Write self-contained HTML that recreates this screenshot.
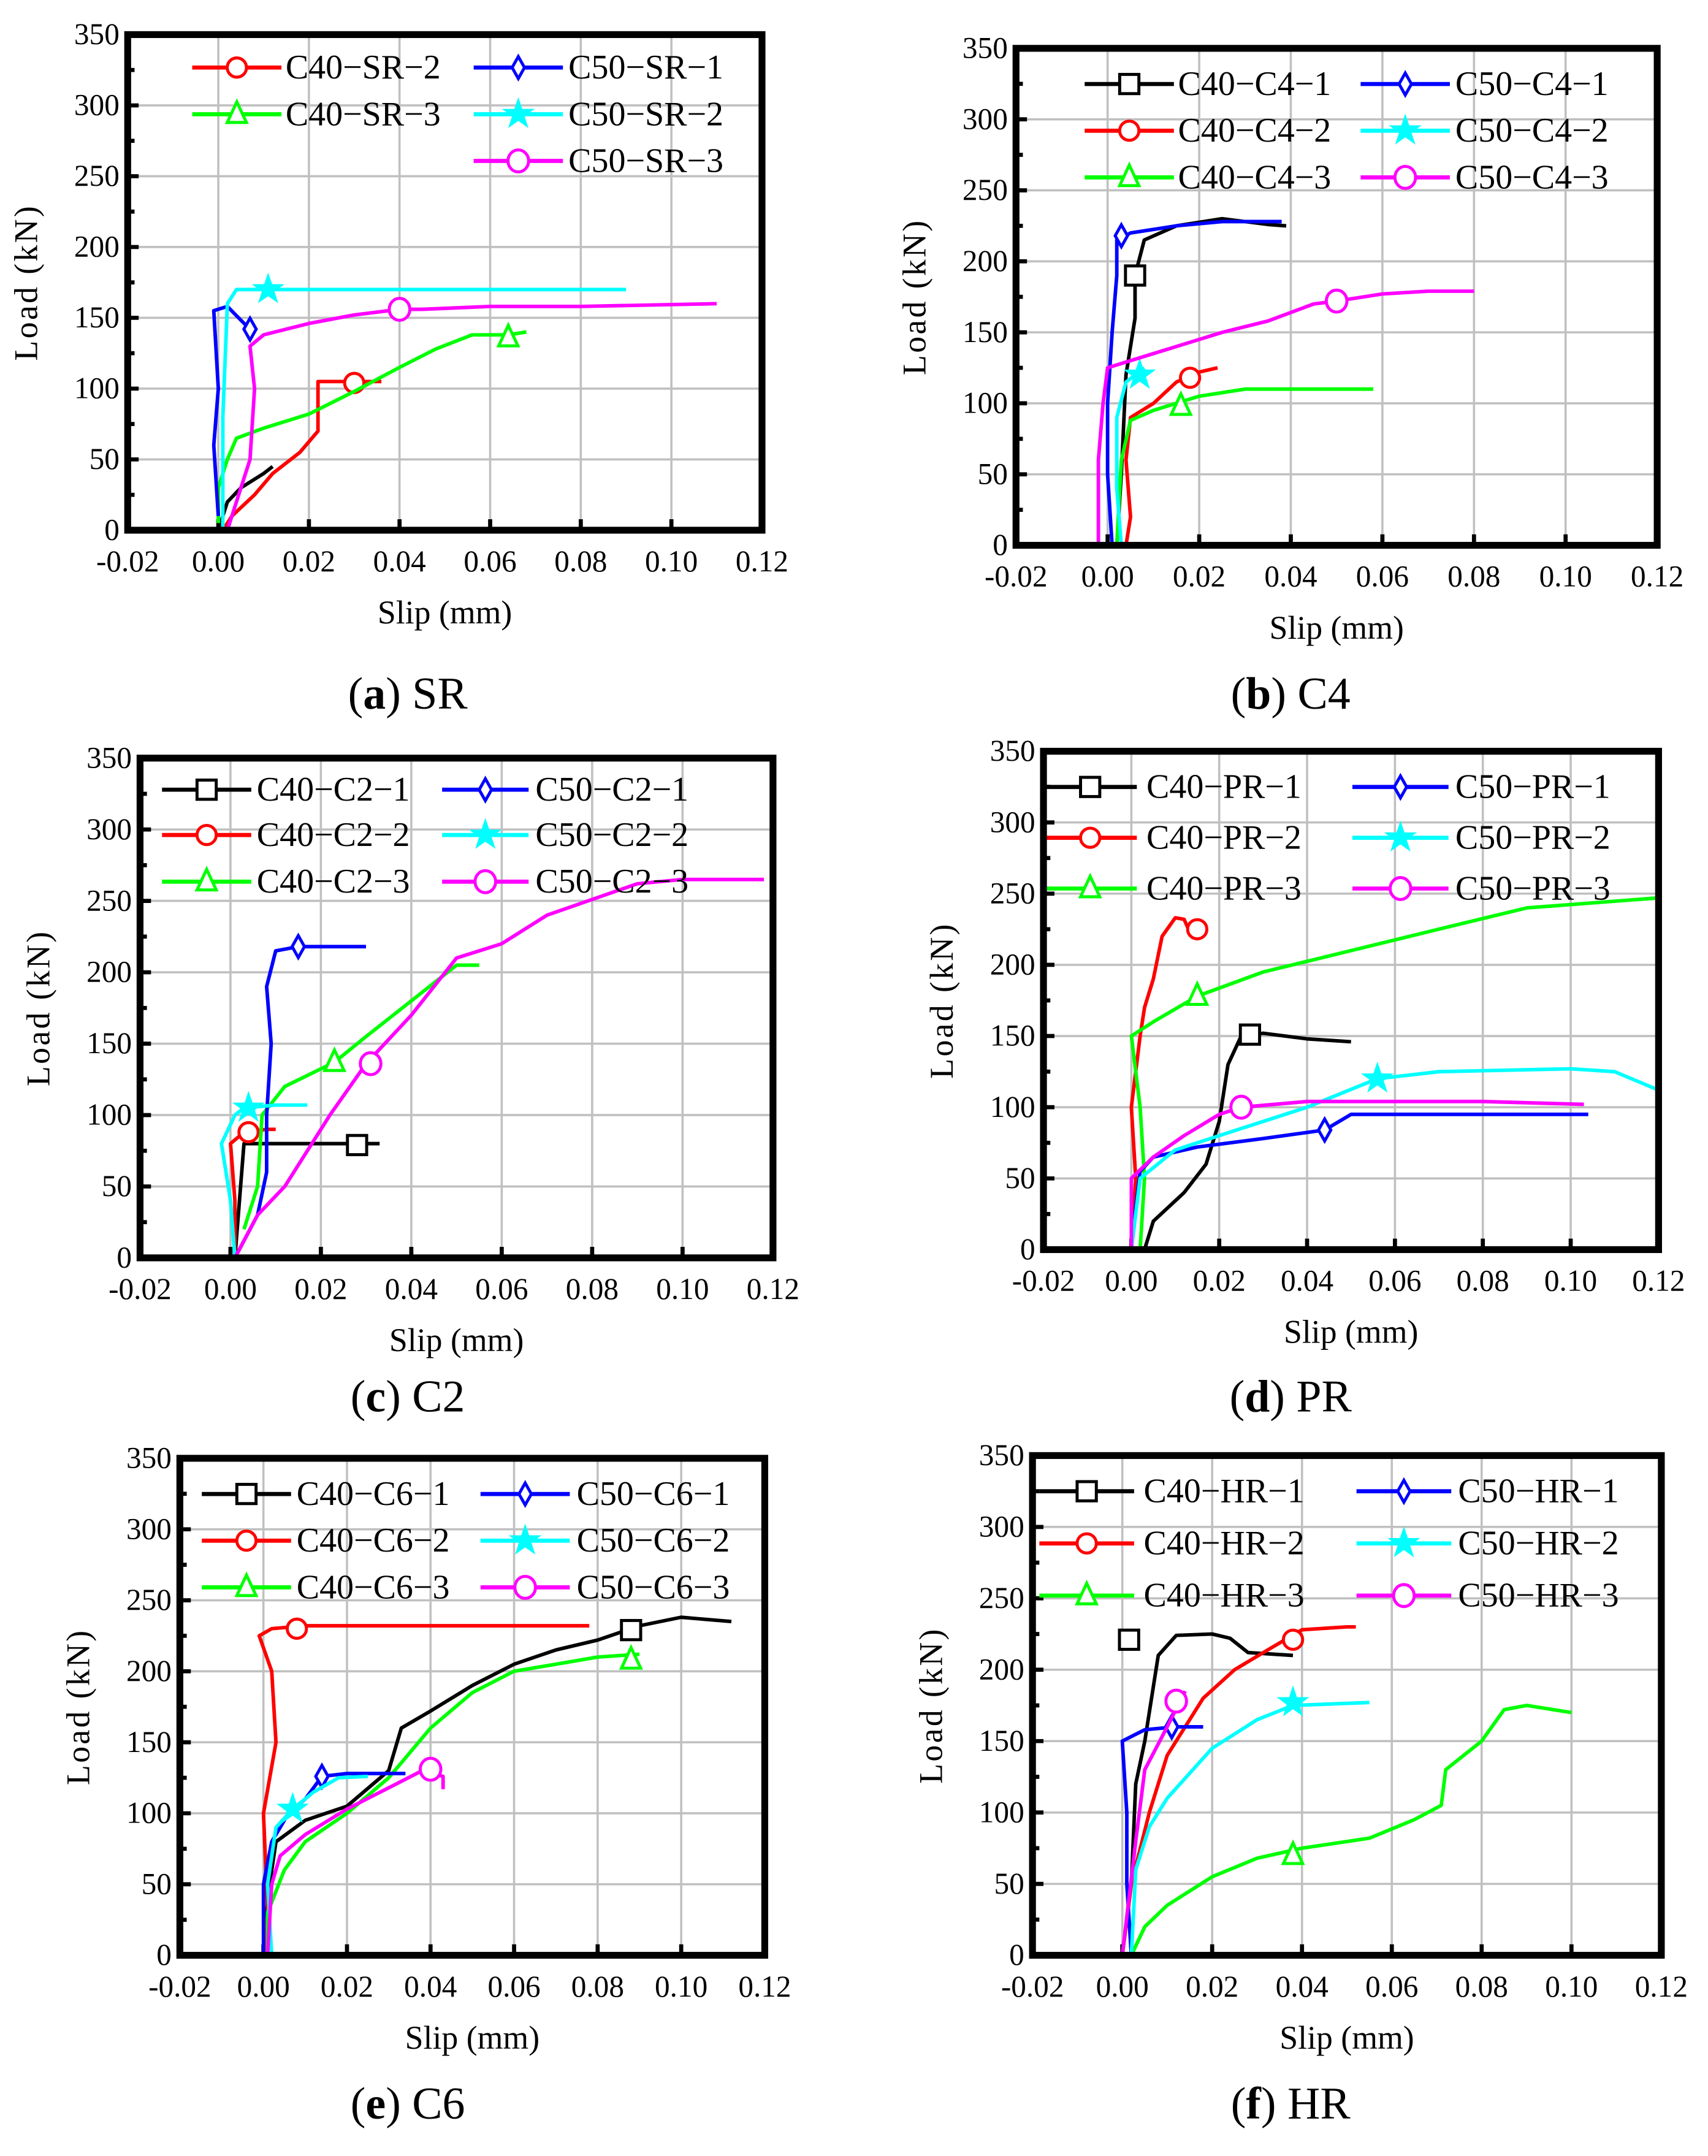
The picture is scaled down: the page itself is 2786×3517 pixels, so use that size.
<!DOCTYPE html>
<html><head><meta charset="utf-8"><style>html,body{margin:0;padding:0;background:#fff}svg{display:block}svg text,svg tspan{font-family:"Liberation Serif","Times New Roman",serif}</style></head>
<body>
<svg id="fig" width="2786" height="3517" viewBox="0 0 1244 1570" xmlns="http://www.w3.org/2000/svg"></svg>
<script>
// x ticks / y ticks
const xTicks = [-0.02,0.00,0.02,0.04,0.06,0.08,0.10,0.12];
const xTickLabels = ["-0.02","0.00","0.02","0.04","0.06","0.08","0.10","0.12"];
const yTicks = [0,50,100,150,200,250,300,350];
// Panel a (SR)
const aC40SR1 = [[0,0],[0.002,20],[0.005,30],[0.01,40],[0.012,45]];
const aC40SR2 = [[0.001,0],[0.003,10],[0.008,25],[0.012,40],[0.018,55],[0.022,70],[0.022,105],[0.03,105],[0.036,105]];
const aC40SR3 = [[0,5],[0,30],[0.002,50],[0.004,65],[0.01,72],[0.02,82],[0.03,98],[0.04,115],[0.048,128],[0.056,138],[0.064,138],[0.068,140]];
const aC50SR1 = [[0,10],[-0.001,60],[0,100],[-0.001,155],[0.002,158],[0.006,145],[0.008,140]];
const aC50SR2 = [[0.001,0],[0.001,80],[0.002,160],[0.004,170],[0.01,170],[0.09,170]];
const aC50SR3 = [[0.002,0],[0.007,50],[0.008,100],[0.007,130],[0.01,138],[0.02,146],[0.03,152],[0.04,156],[0.045,156],[0.06,158],[0.08,158],[0.11,160]];
// Panel b (C4)
const bC40C41 = [[0.002,0],[0.003,50],[0.004,120],[0.006,160],[0.006,190],[0.008,215],[0.015,225],[0.025,230],[0.03,228],[0.035,226],[0.039,225]];
const bC40C42 = [[0.004,0],[0.005,20],[0.004,60],[0.005,90],[0.01,100],[0.015,115],[0.02,122],[0.024,125]];
const bC40C43 = [[0.002,0],[0.003,60],[0.005,88],[0.01,95],[0.02,105],[0.03,110],[0.04,110],[0.05,110],[0.058,110]];
const bC50C41 = [[0.001,0],[0,50],[0,100],[0.001,150],[0.002,190],[0.002,215],[0.005,220],[0.015,225],[0.025,228],[0.038,228]];
const bC50C42 = [[0.003,0],[0.002,40],[0.002,90],[0.004,115],[0.006,120],[0.008,125]];
const bC50C43 = [[-0.002,0],[-0.002,60],[-0.001,100],[0,125],[0.005,130],[0.015,140],[0.025,150],[0.035,158],[0.045,170],[0.05,172],[0.06,177],[0.07,179],[0.08,179]];
// Panel c (C2)
const cC40C21 = [[0.001,0],[0.002,40],[0.003,80],[0.01,80],[0.02,80],[0.028,80],[0.033,80]];
const cC40C22 = [[0.001,0],[0.001,40],[0,80],[0.003,88],[0.008,90],[0.01,90]];
const cC40C23 = [[0.003,20],[0.006,50],[0.007,100],[0.012,120],[0.023,137],[0.03,155],[0.04,180],[0.05,205],[0.055,205]];
const cC50C21 = [[0.001,0],[0.006,30],[0.008,60],[0.008,100],[0.009,150],[0.008,190],[0.01,215],[0.015,218],[0.03,218]];
const cC50C22 = [[0.001,0],[0,40],[-0.002,80],[0.001,100],[0.003,105],[0.01,107],[0.017,107]];
const cC50C23 = [[0.001,0],[0.006,30],[0.012,50],[0.022,100],[0.03,136],[0.04,170],[0.05,210],[0.06,220],[0.07,240],[0.09,262],[0.1,265],[0.118,265]];
// Panel d (PR)
const dC40PR1 = [[0.003,0],[0.005,20],[0.012,40],[0.017,60],[0.02,90],[0.022,130],[0.025,150],[0.03,152],[0.04,148],[0.05,146]];
const dC40PR2 = [[0,0],[0.001,50],[0,100],[0.002,150],[0.003,170],[0.005,190],[0.007,220],[0.01,233],[0.012,232],[0.013,225],[0.017,225]];
const dC40PR3 = [[0.002,0],[0.003,50],[0.002,100],[0,150],[0.005,160],[0.015,178],[0.03,195],[0.05,210],[0.07,225],[0.09,240],[0.12,247]];
const dC50PR1 = [[0,0],[0.001,30],[0.002,55],[0.005,65],[0.015,72],[0.03,78],[0.044,84],[0.05,95],[0.104,95]];
const dC50PR2 = [[0,0],[0.002,50],[0.01,70],[0.025,85],[0.04,100],[0.056,120],[0.07,125],[0.1,127],[0.11,125],[0.12,112]];
const dC50PR3 = [[0,0],[0,50],[0.005,65],[0.012,80],[0.02,95],[0.025,100],[0.04,104],[0.06,104],[0.08,104],[0.103,102]];
// Panel e (C6)
const eC40C61 = [[0,0],[0.001,40],[0.003,80],[0.01,95],[0.02,105],[0.03,130],[0.033,160],[0.04,172],[0.05,190],[0.06,205],[0.07,215],[0.08,222],[0.09,232],[0.1,238],[0.112,235]];
const eC40C62 = [[0,0],[0.001,30],[0,100],[0.003,150],[0.002,200],[-0.001,225],[0.002,230],[0.01,232],[0.04,232],[0.078,232]];
const eC40C63 = [[0.001,0],[0.001,30],[0.005,60],[0.01,80],[0.02,100],[0.03,125],[0.04,160],[0.05,185],[0.06,200],[0.07,205],[0.08,210],[0.09,212]];
const eC50C61 = [[0,0],[0,50],[0.002,80],[0.006,100],[0.01,110],[0.014,126],[0.02,128],[0.034,128]];
const eC50C62 = [[0.002,0],[0.001,50],[0.003,90],[0.007,103],[0.012,115],[0.018,125],[0.025,126]];
const eC50C63 = [[0.001,0],[0.002,50],[0.004,70],[0.01,85],[0.02,103],[0.03,118],[0.038,130],[0.043,126],[0.043,117]];
// Panel f (HR)
const fC40HR1 = [[0,0],[0.002,50],[0.003,120],[0.005,150],[0.008,210],[0.012,224],[0.02,225],[0.024,222],[0.028,212],[0.038,210]];
const fC40HR2 = [[0,0],[0.002,50],[0.006,100],[0.01,140],[0.018,180],[0.025,200],[0.033,215],[0.04,228],[0.05,230],[0.052,230]];
const fC40HR3 = [[0.002,0],[0.005,20],[0.01,35],[0.02,55],[0.03,68],[0.04,75],[0.055,82],[0.065,95],[0.071,105],[0.072,130],[0.08,150],[0.085,172],[0.09,175],[0.1,170]];
const fC50HR1 = [[0.002,0],[0.001,50],[0.001,100],[0,150],[0.005,158],[0.012,160],[0.018,160]];
const fC50HR2 = [[0.002,0],[0.003,60],[0.006,90],[0.01,110],[0.02,145],[0.03,165],[0.038,175],[0.055,177]];
const fC50HR3 = [[0,0],[0.003,80],[0.005,130],[0.01,160],[0.014,185]];
// marker points [slip, load]
const aMarks = {C40SR2:[0.03,104],C40SR3:[0.064,136],C50SR1:[0.007,142],C50SR2:[0.011,170],C50SR3:[0.04,156]};

const NS="http://www.w3.org/2000/svg";
const svg=document.getElementById('fig');
function mk(tag,attrs,parent){const e=document.createElementNS(NS,tag);for(const k in attrs)e.setAttribute(k,attrs[k]);(parent||svg).appendChild(e);return e;}

const COL={black:'#000',red:'#ff0000',green:'#00ff00',blue:'#0000ff',cyan:'#00ffff',mag:'#ff00ff'};
const MK={black:'square',red:'circle',green:'triangle',blue:'diamond',cyan:'star',mag:'hex'};

function marker(g,type,color,x,y){
  let e;
  if(type==='square') e=mk('rect',{x:x-7,y:y-7,width:14,height:14},g);
  else if(type==='circle') e=mk('circle',{cx:x,cy:y,r:7},g);
  else if(type==='hex') e=mk('ellipse',{cx:x,cy:y,rx:7.5,ry:8},g);
  else if(type==='triangle') e=mk('polygon',{points:`${x},${y-9} ${x-7},${y+6} ${x+7},${y+6}`},g);
  else if(type==='diamond') e=mk('polygon',{points:`${x},${y-8} ${x-4.5},${y} ${x},${y+8} ${x+4.5},${y}`},g);
  else { let p=[];for(let i=0;i<10;i++){const r=i%2?3.5:9;const a=-Math.PI/2+i*Math.PI/5;p.push((x+r*Math.cos(a)).toFixed(1)+','+(y+r*Math.sin(a)).toFixed(1));}
    e=mk('polygon',{points:p.join(' ')},g);}
  e.setAttribute('fill', type==='star'?color:'#fff');
  e.setAttribute('stroke',color);e.setAttribute('stroke-width',2.2);
  
  
}

const panels=[
 {id:'a',title:'SR',box:[93,25,555,386],cap:[297,505],legRows:[49,83,117],legCols:[[140,205,208],[345,410,414]],
  series:[
   {name:'C40-SR-1',c:'black',d:aC40SR1,leg:null,m:null},
   {name:'C40-SR-2',c:'red',d:aC40SR2,leg:[0,0],m:aMarks.C40SR2},
   {name:'C40-SR-3',c:'green',d:aC40SR3,leg:[1,0],m:aMarks.C40SR3},
   {name:'C50-SR-1',c:'blue',d:aC50SR1,leg:[0,1],m:aMarks.C50SR1},
   {name:'C50-SR-2',c:'cyan',d:aC50SR2,leg:[1,1],m:aMarks.C50SR2},
   {name:'C50-SR-3',c:'mag',d:aC50SR3,leg:[2,1],m:aMarks.C50SR3}]},
 {id:'b',title:'C4',box:[740,35,1207,397],cap:[940,505],legRows:[61,95,129],legCols:[[790,855,858],[991,1056,1060]],
  series:[
   {name:'C40-C4-1',c:'black',d:bC40C41,leg:[0,0],m:[0.006,190]},
   {name:'C40-C4-2',c:'red',d:bC40C42,leg:[1,0],m:[0.018,118]},
   {name:'C40-C4-3',c:'green',d:bC40C43,leg:[2,0],m:[0.016,98]},
   {name:'C50-C4-1',c:'blue',d:bC50C41,leg:[0,1],m:[0.003,218]},
   {name:'C50-C4-2',c:'cyan',d:bC50C42,leg:[1,1],m:[0.007,120]},
   {name:'C50-C4-3',c:'mag',d:bC50C43,leg:[2,1],m:[0.05,172]}]},
 {id:'c',title:'C2',box:[102,552,563,916],cap:[297,1017],legRows:[575,608,642],legCols:[[118,183,187],[322,385,390]],
  series:[
   {name:'C40-C2-1',c:'black',d:cC40C21,leg:[0,0],m:[0.028,79]},
   {name:'C40-C2-2',c:'red',d:cC40C22,leg:[1,0],m:[0.004,88]},
   {name:'C40-C2-3',c:'green',d:cC40C23,leg:[2,0],m:[0.023,137]},
   {name:'C50-C2-1',c:'blue',d:cC50C21,leg:[0,1],m:[0.015,218]},
   {name:'C50-C2-2',c:'cyan',d:cC50C22,leg:[1,1],m:[0.004,105]},
   {name:'C50-C2-3',c:'mag',d:cC50C23,leg:[2,1],m:[0.031,136]}]},
 {id:'d',title:'PR',box:[760,547,1208,910],cap:[940,1017],legRows:[573,610,647],legCols:[[760,828,835],[985,1055,1060]],
  series:[
   {name:'C40-PR-1',c:'black',d:dC40PR1,leg:[0,0],m:[0.027,151]},
   {name:'C40-PR-2',c:'red',d:dC40PR2,leg:[1,0],m:[0.015,225]},
   {name:'C40-PR-3',c:'green',d:dC40PR3,leg:[2,0],m:[0.015,178]},
   {name:'C50-PR-1',c:'blue',d:dC50PR1,leg:[0,1],m:[0.044,84]},
   {name:'C50-PR-2',c:'cyan',d:dC50PR2,leg:[1,1],m:[0.056,120]},
   {name:'C50-PR-3',c:'mag',d:dC50PR3,leg:[2,1],m:[0.025,100]}]},
 {id:'e',title:'C6',box:[131,1062,557,1424],cap:[297,1532],legRows:[1088,1122,1156],legCols:[[147,212,216],[350,415,420]],
  series:[
   {name:'C40-C6-1',c:'black',d:eC40C61,leg:[0,0],m:[0.088,229]},
   {name:'C40-C6-2',c:'red',d:eC40C62,leg:[1,0],m:[0.008,230]},
   {name:'C40-C6-3',c:'green',d:eC40C63,leg:[2,0],m:[0.088,208]},
   {name:'C50-C6-1',c:'blue',d:eC50C61,leg:[0,1],m:[0.014,126]},
   {name:'C50-C6-2',c:'cyan',d:eC50C62,leg:[1,1],m:[0.007,103]},
   {name:'C50-C6-3',c:'mag',d:eC50C63,leg:[2,1],m:[0.04,131]}]},
 {id:'f',title:'HR',box:[752,1060,1210,1424],cap:[940,1532],legRows:[1086,1124,1162],legCols:[[757,826,833],[988,1057,1062]],
  series:[
   {name:'C40-HR-1',c:'black',d:fC40HR1,leg:[0,0],m:[0.0015,221]},
   {name:'C40-HR-2',c:'red',d:fC40HR2,leg:[1,0],m:[0.038,221]},
   {name:'C40-HR-3',c:'green',d:fC40HR3,leg:[2,0],m:[0.038,70]},
   {name:'C50-HR-1',c:'blue',d:fC50HR1,leg:[0,1],m:[0.011,160]},
   {name:'C50-HR-2',c:'cyan',d:fC50HR2,leg:[1,1],m:[0.038,177]},
   {name:'C50-HR-3',c:'mag',d:fC50HR3,leg:[2,1],m:[0.012,178]}]}
];

panels.forEach(p=>{
  const [x0,y0,x1,y1]=p.box;
  const sx=v=>x0+(v-(-0.02))/0.14*(x1-x0);
  const sy=v=>y1-v/350*(y1-y0);
  const g=mk('g',{});
  
  
  xTicks.forEach(t=>{ if(t>-0.02&&t<0.12){const l=mk('line',{x1:sx(t),x2:sx(t),y1:y0,y2:y1,stroke:'#c0c0c0','stroke-width':1.6},g);
    }});
  yTicks.forEach(t=>{ if(t>0&&t<350){const l=mk('line',{x1:x0,x2:x1,y1:sy(t),y2:sy(t),stroke:'#c0c0c0','stroke-width':1.6},g);
    }});
  yTicks.forEach(t=>{mk('line',{x1:x0,x2:x0+8,y1:sy(t),y2:sy(t),stroke:'#000','stroke-width':3},g);
    if(t<350) mk('line',{x1:x0,x2:x0+5,y1:sy(t+25),y2:sy(t+25),stroke:'#000','stroke-width':3},g);
    const tx=mk('text',{x:x0-6,y:sy(t)+7,'text-anchor':'end','font-size':22},g);tx.textContent=String(t);
    });
  xTicks.forEach((t,i)=>{mk('line',{x1:sx(t),x2:sx(t),y1:y1,y2:y1-8,stroke:'#000','stroke-width':3},g);
    const tx=mk('text',{x:sx(t),y:y1+30,'text-anchor':'middle','font-size':22},g);tx.textContent=xTickLabels[i];
    });
  p.series.forEach(s=>{
    const pts=s.d.map(q=>sx(q[0]).toFixed(1)+','+sy(q[1]).toFixed(1)).join(' ');
    const pl=mk('polyline',{points:pts,fill:'none',stroke:COL[s.c],'stroke-width':2.6,'stroke-linejoin':'round'},g);
    
    
    if(s.m) marker(g,MK[s.c],COL[s.c],sx(s.m[0]),sy(s.m[1]));
  });
  p.series.forEach(s=>{ if(!s.leg) return;
    const ry=p.legRows[s.leg[0]], c=p.legCols[s.leg[1]];
    const lg=mk('g',{},g);
    
    
    mk('line',{x1:c[0],x2:c[1],y1:ry,y2:ry,stroke:COL[s.c],'stroke-width':3},lg);
    marker(lg,MK[s.c],COL[s.c],(c[0]+c[1])/2,ry);
    const t=mk('text',{x:c[2],y:ry+8,'font-size':25},lg);t.textContent=s.name.replace(/-/g,'\u2212');
  });
  const fr=mk('rect',{x:x0,y:y0,width:x1-x0,height:y1-y0,fill:'none',stroke:'#000','stroke-width':5},g);
  
  const xt=mk('text',{x:(x0+x1)/2,y:y1+68,'text-anchor':'middle','font-size':24},g);xt.textContent='Slip (mm)';
  
  const yx=x0-66, yc=(y0+y1)/2;
  const yt=mk('text',{x:yx,y:yc,'text-anchor':'middle','font-size':24,'letter-spacing':1.5,transform:`rotate(-90 ${yx} ${yc})`},g);yt.textContent='Load (kN)';
  
  const cp=mk('text',{x:p.cap[0],y:p.cap[1]+11,'text-anchor':'middle','font-size':33},g);
  cp.innerHTML='(<tspan font-weight="bold">'+p.id+'</tspan>) '+p.title;
  
});
</script>
</body></html>
